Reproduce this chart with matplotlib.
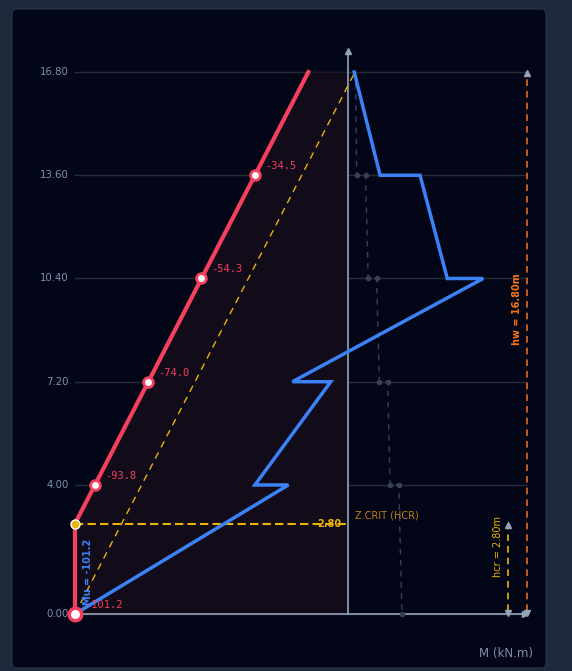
import matplotlib
matplotlib.use('Agg')
import matplotlib.pyplot as plt
from matplotlib.patches import FancyBboxPatch

# data
z_ticks = [0.0, 4.0, 7.2, 10.4, 13.6, 16.8]
tick_labels = ['0.00', '4.00', '7.20', '10.40', '13.60', '16.80']

# shifted envelope (red)
z_env = [0.0, 2.8, 4.0, 7.2, 10.4, 13.6, 16.8]
m_env = [-101.2, -101.2, -93.8, -74.0, -54.3, -34.5, -14.7]
env_marks_z = [0.0, 4.0, 7.2, 10.4, 13.6]
env_marks_m = [-101.2, -93.8, -74.0, -54.3, -34.5]
env_labels = ['-101.2', '-93.8', '-74.0', '-54.3', '-34.5']

# linear envelope (yellow dashed)
z_lin = [0.0, 16.8]
m_lin = [-101.2, 2.6]

# design moment (blue)
z_mu = [0.0, 4.0, 4.0, 7.2, 7.2, 10.4, 10.4, 13.6, 13.6, 16.8]
m_mu = [-101.2, -22.1, -34.5, -6.4, -20.6, 50.1, 36.8, 26.7, 11.9, 2.3]

# ghost series (grey dashed)
z_gh = [16.8, 13.6, 13.6, 10.4, 10.4, 7.2, 7.2, 4.0, 4.0, 0.0]
m_gh = [2.8, 3.2, 6.5, 7.5, 10.6, 11.6, 14.7, 15.6, 18.8, 20.0]

hcr = 2.8
hw = 16.8
mu_base = -101.2

# layout (pixels -> data)
W, H = 572, 671
kx = 2.698   # px per kN.m
ky = 32.26   # px per m
x0_px, y0_px = 348, 614

fig = plt.figure(figsize=(W / 100, H / 100), dpi=100, facecolor='#1e293b')
ax = fig.add_axes([0, 0, 1, 1])
ax.set_xlim(-x0_px / kx, (W - x0_px) / kx)
ax.set_ylim(-(H - y0_px) / ky, y0_px / ky)
ax.axis('off')
ax.patch.set_alpha(0)

panel = FancyBboxPatch((12 / W, 3 / H), (546 - 12) / W, (668 - 9) / H,
                       boxstyle='round,pad=0,rounding_size=0.008',
                       transform=ax.transAxes, facecolor='#020617',
                       edgecolor='#2b3648', lw=0.8, zorder=0)
ax.add_patch(panel)

x_right = (527 - x0_px) / kx
x_hcr = (508 - x0_px) / kx

# grid
for z in z_ticks:
    ax.plot([mu_base, x_right], [z, z], color='#262b3a', lw=1, zorder=1)
for z, lab in zip(z_ticks, tick_labels):
    ax.text(mu_base - 6 / kx, z, lab, ha='right', va='center',
            fontsize=7.3, color='#7d93ad')

# shaded area
ax.fill_betweenx(z_env, m_env, 0, color='#110b1a', zorder=1.5, lw=0)

# axes
ax.plot([mu_base, 65.2], [0, 0], color='#94a3b8', lw=1.2, zorder=2)
ax.plot([0, 0], [0, 17.4], color='#94a3b8', lw=1.2, zorder=2)
ax.plot([0], [17.45], marker='^', ms=5, color='#94a3b8', zorder=3)
ax.plot([65.6], [0], marker='>', ms=5, color='#94a3b8', zorder=3)

# ghost line
ax.plot(m_gh, z_gh, color='#3a4150', lw=1, dashes=(4, 4), zorder=2)
ax.plot(m_gh[1:], z_gh[1:], ls='none', marker='o', ms=3, color='#3a4150', zorder=2)

# linear envelope
ax.plot(m_lin, z_lin, color='#eab308', lw=1, dashes=(5, 4), zorder=3)

# hcr line
ax.plot([mu_base, 0], [hcr, hcr], color='#eab308', lw=1.5, dashes=(4, 2), zorder=3)
ax.text(-2.5, hcr, '2.80', ha='right', va='center', fontsize=7,
        fontweight='bold', color='#eab308', zorder=4)
ax.text(2.5, hcr + 0.25, 'Z.CRIT (HCR)', ha='left', va='center', fontsize=7,
        color='#c2800f', zorder=4)

# design moment
ax.plot(m_mu, z_mu, color='#3b82f6', lw=2.5, zorder=4, solid_joinstyle='miter')

# envelope
ax.plot(m_env, z_env, color='#f43f5e', lw=3, zorder=5)
ax.plot(env_marks_m[1:], env_marks_z[1:], ls='none', marker='o', ms=7,
        mfc='white', mec='#f43f5e', mew=2, zorder=6)
ax.plot([env_marks_m[0]], [env_marks_z[0]], ls='none', marker='o', ms=9,
        mfc='white', mec='#f43f5e', mew=2.5, zorder=6)
ax.plot([mu_base], [hcr], ls='none', marker='o', ms=6.5, mfc='#eab308',
        mec='white', mew=1, zorder=6)
for m, z, lab in zip(env_marks_m, env_marks_z, env_labels):
    ax.text(m + 10 / kx, z + 9 / ky, lab, ha='left', va='center', fontsize=7.5,
            family='DejaVu Sans Mono', color='#f43f5e', zorder=6)

ax.text(mu_base + 13 / kx, 1.3, 'Mu = -101.2', rotation=90, ha='center',
        va='center', fontsize=7, fontweight='bold', color='#3b82f6', zorder=7)

# hw dimension
ax.plot([x_right, x_right], [0.1, hw - 0.1], color='#ea6a1a', lw=1.2,
        dashes=(4, 3), zorder=3)
ax.plot([x_right], [hw - 0.03], marker='^', ms=5, color='#94a3b8', zorder=4)
ax.plot([x_right], [0.03], marker='v', ms=5, color='#94a3b8', zorder=4)
ax.text(x_right - 10 / kx, 9.45, 'hw = 16.80m', rotation=90, ha='center',
        va='center', fontsize=7, fontweight='bold', color='#f97316', zorder=4)

# hcr dimension
ax.plot([x_hcr, x_hcr], [0.1, hcr - 0.1], color='#eab308', lw=1.2,
        dashes=(4, 3), zorder=3)
ax.plot([x_hcr], [hcr - 0.03], marker='^', ms=5, color='#94a3b8', zorder=4)
ax.plot([x_hcr], [0.03], marker='v', ms=5, color='#94a3b8', zorder=4)
ax.text(x_hcr - 10 / kx, 2.1, 'hcr = 2.80m', rotation=90, ha='center',
        va='center', fontsize=7, color='#eab308', zorder=4)

ax.text((533 - x0_px) / kx, -(654 - y0_px) / ky, 'M (kN.m)', ha='right',
        va='center', fontsize=8.5, color='#7c8ea6')

fig.savefig('out.png', dpi=100, facecolor=fig.get_facecolor())
